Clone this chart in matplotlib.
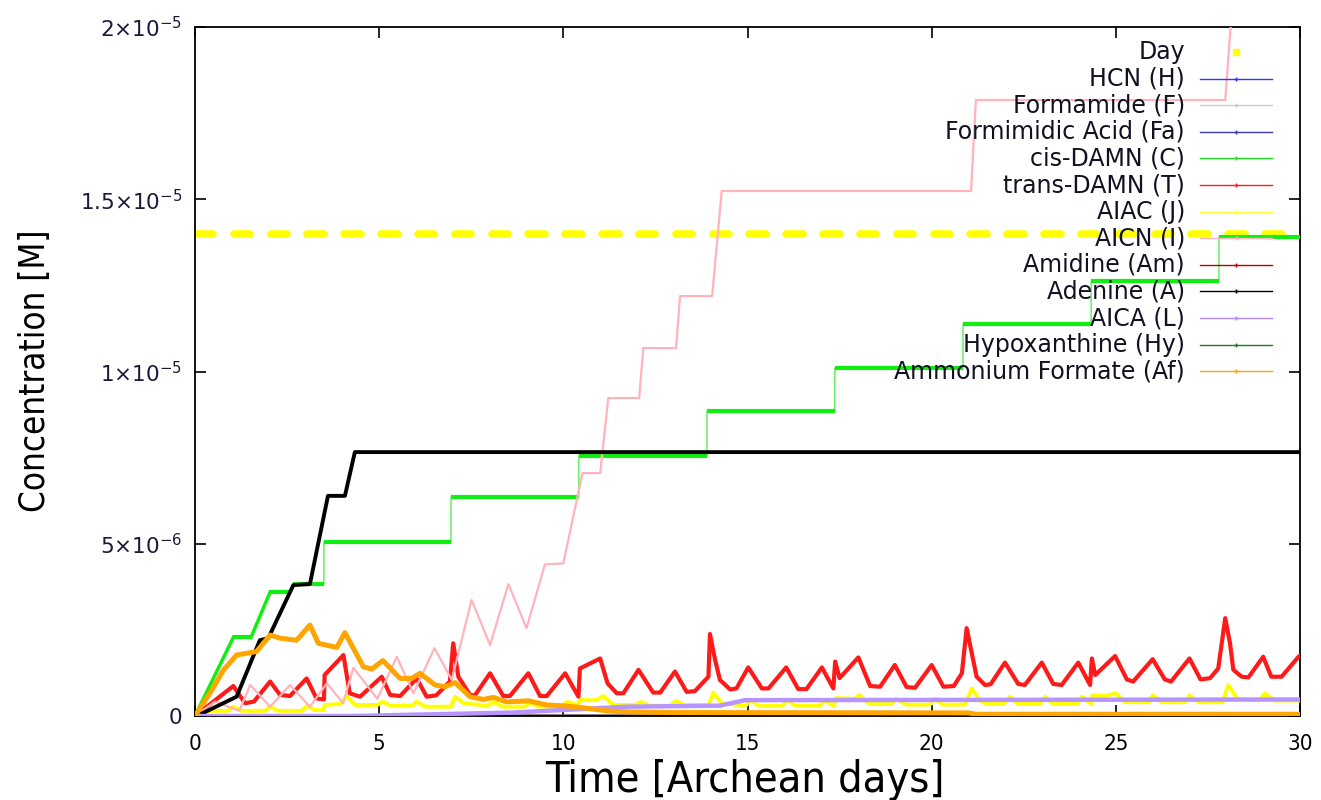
import matplotlib
matplotlib.use("Agg")
import matplotlib.pyplot as plt
import numpy as np

# concentrations in 1e-6 M, time in Archean days
adenine_t = [0, 0.05, 1.13, 1.76, 1.99, 2.67, 3.12, 3.61, 4.07, 4.34, 30]
adenine_c = [0, 0, 0.56, 2.2, 2.26, 3.8, 3.83, 6.39, 6.39, 7.66, 7.66]

cis_t = [0, 1.04, 1.52, 2.04, 2.55, 2.67, 3.5, 3.5, 6.95, 6.95, 10.42, 10.42,
         13.9, 13.9, 17.37, 17.37, 20.85, 20.85, 24.33, 24.33, 27.8, 27.8, 30]
cis_c = [0, 2.28, 2.28, 3.6, 3.6, 3.83, 3.83, 5.06, 5.06, 6.35, 6.35, 7.55,
         7.55, 8.85, 8.85, 10.1, 10.1, 11.37, 11.37, 12.63, 12.63, 13.9, 13.9]

aicn_t = [0, 0.55, 1.2, 1.5, 2.04, 2.58, 3.12, 3.58, 4.02, 4.3, 4.95, 5.48,
          5.93, 6.5, 6.97, 7.51, 8.01, 8.51, 9.0, 9.5, 10.0, 10.52, 11.0,
          11.22, 12.06, 12.17, 13.06, 13.17, 14.04, 14.3, 21.07, 21.2, 27.97, 28.15]
aicn_c = [0, 0.42, 0.15, 0.9, 0.27, 0.9, 0.27, 0.95, 0.37, 1.4, 0.5, 1.72,
          0.66, 1.97, 1.05, 3.37, 2.06, 3.83, 2.55, 4.4, 4.43, 7.05, 7.05,
          9.23, 9.23, 10.68, 10.68, 12.19, 12.19, 15.24, 15.24, 17.88, 17.88, 20.5]

trans_t = [0, 1.04, 1.36, 1.6, 2.04, 2.31, 2.58, 3.03, 3.3, 3.5, 3.52, 4.03,
           4.2, 4.48, 5.07, 5.3, 5.57, 6.02, 6.29, 6.55, 6.92, 7.01, 7.15,
           7.47, 7.6, 8.01, 8.37, 8.55, 9.05, 9.37, 9.55, 10.05, 10.41, 10.45,
           11.0, 11.2, 11.45, 11.63, 12.04, 12.44, 12.63, 13.03, 13.35, 13.57,
           13.94, 13.98, 14.12, 14.25, 14.53, 14.7, 15.02, 15.39, 15.57, 16.05,
           16.38, 16.6, 17.02, 17.33, 17.38, 17.5, 18.01, 18.33, 18.6, 19.0,
           19.32, 19.55, 20.0, 20.32, 20.6, 20.82, 20.95, 21.09, 21.22, 21.45,
           21.6, 21.99, 22.35, 22.53, 22.99, 23.3, 23.53, 23.98, 24.3, 24.35,
           24.44, 24.98, 25.3, 25.47, 26.0, 26.33, 26.5, 27.0, 27.3, 27.56,
           27.78, 27.97, 28.1, 28.19, 28.42, 28.6, 29.0, 29.22, 29.5, 29.96, 30]
trans_c = [0, 0.87, 0.37, 0.42, 1.0, 0.61, 0.58, 1.09, 0.51, 0.48, 1.19, 1.77,
           0.66, 0.56, 1.14, 0.61, 0.58, 1.09, 0.56, 0.6, 1.0, 2.11, 1.14,
           0.61, 0.6, 1.24, 0.58, 0.58, 1.24, 0.58, 0.58, 1.24, 0.56, 1.38,
           1.67, 0.95, 0.66, 0.66, 1.34, 0.68, 0.68, 1.29, 0.7, 0.72,
           1.14, 2.38, 1.63, 1.05, 0.77, 0.8, 1.41, 0.8, 0.8, 1.41,
           0.78, 0.78, 1.41, 0.8, 1.58, 1.1, 1.7, 0.87, 0.85, 1.48,
           0.84, 0.82, 1.48, 0.85, 0.87, 1.24, 2.55, 1.82, 1.14, 0.9,
           0.92, 1.55, 0.93, 0.9, 1.55, 0.93, 0.9, 1.55, 0.9, 1.67,
           1.19, 1.74, 1.06, 1.0, 1.65, 1.06, 1.0, 1.67, 1.06, 1.1,
           1.38, 2.84, 2.11, 1.34, 1.14, 1.12, 1.72, 1.14, 1.14, 1.72, 1.75]

aiac_t = [0, 0.4, 0.9, 1.04, 1.25, 1.9, 2.04, 2.25, 2.9, 3.05, 3.25, 3.5, 3.52,
          3.95, 4.12, 4.35, 4.95, 5.1, 5.3, 5.9, 6.02, 6.25, 6.95, 7.06, 7.3,
          7.95, 8.1, 8.35, 8.95, 9.1, 9.35, 9.95, 10.1, 10.4, 10.45, 10.9, 11.08,
          11.36, 11.95, 12.1, 12.35, 12.9, 13.05, 13.3, 13.95, 14.07, 14.3,
          14.95, 15.08, 15.3, 15.95, 16.08, 16.3, 16.95, 17.08, 17.35, 17.4,
          17.9, 18.05, 18.3, 18.9, 19.05, 19.3, 19.95, 20.08, 20.3, 20.9, 21.09,
          21.3, 21.5, 21.95, 22.13, 22.35, 22.95, 23.08, 23.3, 23.95, 24.08,
          24.33, 24.36, 24.7, 25.0, 25.25, 25.9, 26.0, 26.25, 26.9, 27.0, 27.25,
          27.9, 28.05, 28.3, 28.9, 29.05, 29.3, 30]
aiac_c = [0, 0.15, 0.15, 0.27, 0.15, 0.15, 0.27, 0.15, 0.15, 0.3, 0.17, 0.17, 0.32,
          0.35, 0.58, 0.32, 0.32, 0.42, 0.3, 0.3, 0.42, 0.27, 0.27, 0.56, 0.37,
          0.3, 0.41, 0.27, 0.27, 0.38, 0.27, 0.27, 0.41, 0.32, 0.46, 0.46, 0.58,
          0.32, 0.32, 0.41, 0.3, 0.3, 0.44, 0.32, 0.32, 0.68, 0.37,
          0.3, 0.45, 0.3, 0.3, 0.45, 0.3, 0.3, 0.45, 0.3, 0.52,
          0.5, 0.61, 0.35, 0.35, 0.5, 0.33, 0.33, 0.5, 0.33, 0.33, 0.8,
          0.46, 0.35, 0.35, 0.56, 0.35, 0.35, 0.56, 0.35, 0.35, 0.56,
          0.35, 0.6, 0.58, 0.66, 0.4, 0.4, 0.6, 0.4, 0.4, 0.6, 0.4,
          0.4, 0.9, 0.5, 0.45, 0.66, 0.45, 0.45]

aica_t = [0, 4.3, 8.64, 11.72, 14.25, 14.93, 30]
aica_c = [0, 0.0, 0.1, 0.27, 0.3, 0.46, 0.48]

formate_t = [0, 0.41, 0.77, 1.13, 1.67, 2.04, 2.31, 2.76, 3.12, 3.35, 3.85, 4.07,
             4.57, 4.8, 5.1, 5.57, 5.88, 6.11, 6.52, 6.79, 7.06, 7.47, 7.83,
             8.1, 8.46, 9.05, 9.55, 10.09, 10.45, 11.18, 11.72, 13.0, 21.0, 21.2, 30]
formate_c = [0, 0.67, 1.33, 1.77, 1.87, 2.35, 2.26, 2.2, 2.64, 2.11, 1.99, 2.42,
             1.43, 1.36, 1.61, 1.09, 1.09, 1.24, 0.9, 0.85, 0.97, 0.56, 0.48,
             0.54, 0.41, 0.44, 0.32, 0.29, 0.25, 0.15, 0.12, 0.1, 0.09, 0.05, 0.05]

zero_t = [0, 30]
zero_c = [0, 0]

day_start = list(range(30))
day_len = 0.45
day_level = 14.0

labels = ["Day", "HCN (H)", "Formamide (F)", "Formimidic Acid (Fa)", "cis-DAMN (C)",
          "trans-DAMN (T)", "AIAC (J)", "AICN (I)", "Amidine (Am)", "Adenine (A)",
          "AICA (L)", "Hypoxanthine (Hy)", "Ammonium Formate (Af)"]
colors = ["#ffff00", "#3333ff", "#cccccc", "#3a3ab0", "#22dd22", "#ff1a1a",
          "#ffff33", "#ffb3ba", "#c00000", "#000000", "#b088ff", "#1e7a1e", "#ffa500"]

U = 1e-6
fig = plt.figure(figsize=(13.21, 8), dpi=100)
ax = fig.add_axes([195 / 1321, 1 - 716 / 800, 1105 / 1321, 689 / 800])

# day indicator
ax.hlines([day_level * U] * len(day_start), [d + 0.05 for d in day_start],
          [d + 0.05 + day_len for d in day_start], colors="#ffff00", lw=5.5,
          capstyle="round", zorder=2)

# species at zero
for col in [colors[1], colors[2], colors[3], colors[8], colors[11]]:
    ax.plot(zero_t, np.array(zero_c) * U, color=col, lw=2.5, zorder=2)

# cis-DAMN: thin risers, thick plateaus
ct = np.array(cis_t)
cc = np.array(cis_c) * U
ax.plot(ct, cc, color="#55ee55", lw=1.0, zorder=3)
for i in range(len(ct) - 1):
    if cc[i] == cc[i + 1]:
        ax.plot(ct[i:i + 2], cc[i:i + 2], color="#11ee11", lw=3.0,
                solid_capstyle="butt", zorder=3)
    elif i < 4:
        ax.plot(ct[i:i + 2], cc[i:i + 2], color="#11ee11", lw=2.5, zorder=3)

ax.plot(trans_t, np.array(trans_c) * U, color="#ff1a1a", lw=3.0, zorder=4)
ax.plot(aiac_t, np.array(aiac_c) * U, color="#ffff00", lw=2.8, zorder=4)
ax.plot(aicn_t, np.array(aicn_c) * U, color="#ffb3ba", lw=1.6, zorder=4)
ax.plot(adenine_t, np.array(adenine_c) * U, color="#000000", lw=2.8, zorder=5)
ax.plot(aica_t, np.array(aica_c) * U, color="#b794ff", lw=3.2, zorder=5)
ax.plot(formate_t, np.array(formate_c) * U, color="#ffa500", lw=3.6, zorder=6)

narrow = dict(family="DejaVu Sans", fontstretch="condensed")

ax.set_xlim(0, 30)
ax.set_ylim(0, 2e-5)
ax.set_xticks([0, 5, 10, 15, 20, 25, 30])
ax.set_yticks([0, 5e-6, 1e-5, 1.5e-5, 2e-5])
ax.set_yticklabels(["0", r"$5{\times}10^{-6}$", r"$1{\times}10^{-5}$",
                    r"$1.5{\times}10^{-5}$", r"$2{\times}10^{-5}$"])
ax.tick_params(direction="in", length=8, width=1.2, top=True, right=True)
ax.tick_params(axis="y", labelsize=15.5, pad=9, labelcolor="#1a1a3a")
ax.tick_params(axis="x", labelsize=16, pad=13)
for t in ax.get_xticklabels():
    t.set_fontstretch("condensed")
for s in ax.spines.values():
    s.set_linewidth(1.3)

# legend (gnuplot style, right-aligned text)
y0 = (716 - 52) / 689
dy = 26.6 / 689
for i, (lab, col) in enumerate(zip(labels, colors)):
    y = y0 - i * dy
    ax.text(0.896, y, lab, transform=ax.transAxes, ha="right", va="center",
            fontsize=17, color="#111122", zorder=8)
    if i == 0:
        ax.plot([0.942], [y], transform=ax.transAxes, marker="s", ms=4,
                color=col, clip_on=False, zorder=8)
    else:
        ax.plot([0.9095, 0.9747], [y, y], transform=ax.transAxes, color=col,
                lw=1.0, clip_on=False, zorder=8)
        ax.plot([0.942], [y], transform=ax.transAxes, marker="+", ms=3,
                color=col, clip_on=False, zorder=8)

fig.text(745 / 1321, 1 - 780 / 800, "Time [Archean days]", ha="center", va="center",
         fontsize=31, **narrow)
fig.text(35 / 1321, 1 - 371 / 800, "Concentration [M]", ha="center", va="center",
         rotation=90, fontsize=25, **narrow)

fig.savefig("out.png", dpi=100)
